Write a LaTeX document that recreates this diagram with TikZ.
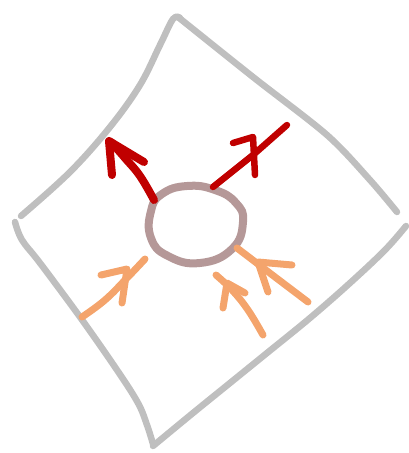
\documentclass[tikz,border=0pt]{standalone}
\begin{document}
\begin{tikzpicture}[x=1pt,y=-1pt,line cap=round,line join=round,
  frame/.style={draw={rgb,255:red,191;green,191;blue,191},line width=6.5pt},
  cell/.style={draw={rgb,255:red,181;green,152;blue,152},line width=8pt},
  outarrow/.style={draw={rgb,255:red,192;green,0;blue,0},line width=8pt},
  inarrow/.style={draw={rgb,255:red,244;green,164;blue,108},line width=7pt}]
\useasboundingbox (0,0) rectangle (409,453);
% frame
\draw[frame] plot[smooth,tension=0.6] coordinates {(21,216) (70,172) (110,127) (140,85) (160,45) (173,19) (180,18)};
\draw[frame] plot[smooth,tension=0.5] coordinates {(178,17) (253,77) (327,135) (370,180) (397,212)};
\draw[frame] plot[smooth,tension=0.6] coordinates {(406,226) (385,250) (350,283) (310,318) (267,353) (230,383) (193,413) (153,446)};
\draw[frame] plot[smooth,tension=0.6] coordinates {(15,222) (22,240) (40,263) (80,317) (117,370) (138,403) (147,425) (153,444)};
% cell
\draw[cell] plot[smooth cycle,tension=0.8] coordinates {(162,194) (187,186) (215,190) (236,203) (243,222) (232,249) (200,263) (168,256) (151,238) (151,211)};
% outgoing arrows
\draw[outarrow] plot[smooth,tension=0.7] coordinates {(154,200) (140,176) (125,158) (111,142)};
\draw[outarrow] (112,175) -- (109,141) -- (144,162);
\draw[outarrow,line width=6.5pt] (213,187) -- (253,155) -- (287,125);
\draw[outarrow,line width=6.5pt] (233,143) -- (253,137) -- (255,175);
% incoming arrows
\draw[inarrow] plot[smooth,tension=0.7] coordinates {(82,317) (105,300) (127,278) (145,259)};
\draw[inarrow] (101,275) -- (127,269) -- (122,303);
\draw[inarrow] (308,302) -- (275,277) -- (237,248);
\draw[inarrow] (292,265) -- (258,262) -- (268,292);
\draw[inarrow] plot[smooth,tension=0.7] coordinates {(263,335) (248,310) (232,290) (216,275)};
\draw[inarrow] (245,293) -- (227,283) -- (223,308);
\end{tikzpicture}
\end{document}
